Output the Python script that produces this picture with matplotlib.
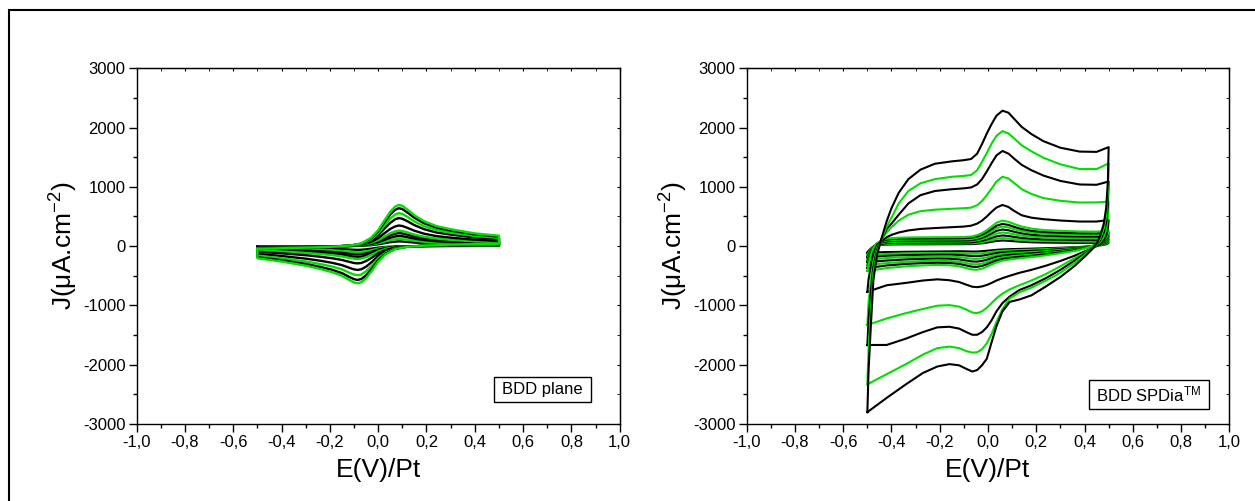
import matplotlib
matplotlib.use("Agg")
import matplotlib.pyplot as plt
from matplotlib.patches import Rectangle
from matplotlib.ticker import MultipleLocator, FuncFormatter

plt.rcParams['font.family'] = ['Liberation Sans', 'DejaVu Sans']
plt.rcParams['mathtext.fontset'] = 'custom'
plt.rcParams['mathtext.rm'] = 'Liberation Sans'
plt.rcParams['mathtext.it'] = 'Liberation Sans'

GREEN = '#00e000'
BLACK = '#000000'

# ---- left panel: BDD plane ----
E_fwd_L = [-0.5, -0.4, -0.3, -0.2, -0.12, -0.07, -0.03, 0.0, 0.025, 0.05, 0.07, 0.085,
           0.1, 0.12, 0.15, 0.19, 0.24, 0.3, 0.4, 0.5]
E_rev_L = [0.5, 0.4, 0.3, 0.2, 0.12, 0.07, 0.03, 0.0, -0.025, -0.05, -0.07, -0.085,
           -0.1, -0.12, -0.15, -0.19, -0.24, -0.3, -0.4, -0.5]

L1_fwd = [-45, -35, -25, -12, 8, 45, 140, 270, 430, 580, 665, 695, 680, 620, 520, 420, 340, 285, 215, 175]
L1_rev = [40, 35, 25, 10, -12, -50, -140, -260, -410, -540, -610, -626, -612, -570, -500, -440, -385, -330, -260, -205]
L2_fwd = [-42, -32, -23, -11, 7, 41, 129, 248, 396, 534, 612, 640, 626, 570, 478, 386, 313, 262, 198, 161]
L2_rev = [37, 32, 23, 9, -11, -46, -127, -237, -373, -491, -555, -570, -557, -519, -455, -400, -350, -300, -237, -187]
L3_fwd = [-36, -28, -20, -10, 6, 36, 112, 216, 344, 464, 532, 556, 544, 496, 416, 336, 272, 228, 172, 140]
L3_rev = [32, 28, 20, 8, -9, -39, -110, -204, -322, -424, -479, -491, -480, -447, -392, -345, -302, -259, -204, -161]
L4_fwd = [-31, -24, -17, -8, 5, 31, 95, 184, 292, 394, 452, 473, 462, 422, 354, 286, 231, 194, 146, 119]
L4_rev = [27, 22, 16, 6, -8, -32, -90, -166, -262, -346, -390, -401, -392, -365, -320, -282, -246, -211, -166, -131]
L5_fwd = [-23, -18, -13, -6, 4, 23, 70, 135, 215, 290, 332, 348, 340, 310, 260, 210, 170, 143, 108, 88]
L5_rev = [20, 16, 12, 5, -6, -23, -65, -121, -191, -251, -284, -291, -285, -265, -233, -205, -179, -153, -121, -95]
L6_fwd = [-17, -13, -9, -5, 3, 17, 53, 101, 161, 218, 249, 261, 255, 233, 195, 158, 128, 107, 81, 66]
L6_rev = [15, 12, 9, 3, -4, -17, -48, -90, -141, -186, -210, -216, -211, -197, -173, -152, -133, -114, -90, -71]
L7_fwd = [-14, -11, -8, -4, 3, 14, 44, 85, 135, 183, 209, 219, 214, 195, 164, 132, 107, 90, 68, 55]
L7_rev = [12, 10, 7, 3, -3, -15, -41, -75, -119, -157, -177, -182, -177, -165, -145, -128, -112, -96, -75, -59]
L8_fwd = [-11, -9, -6, -3, 2, 11, 34, 66, 105, 142, 163, 170, 167, 152, 127, 103, 83, 70, 53, 43]
L8_rev = [10, 8, 6, 2, -3, -11, -32, -59, -92, -122, -137, -141, -138, -128, -113, -99, -87, -74, -59, -46]
L9_fwd = [-8, -6, -4, -2, 1, 8, 25, 47, 75, 102, 116, 122, 119, 109, 91, 74, 60, 50, 38, 31]
L9_rev = [7, 6, 4, 2, -2, -8, -22, -42, -66, -86, -98, -100, -98, -91, -80, -70, -62, -53, -42, -33]
L10_fwd = [-5, -4, -3, -1, 1, 5, 16, 31, 49, 67, 76, 80, 78, 71, 60, 48, 39, 33, 25, 20]
L10_rev = [4, 3, 2, 1, -1, -5, -14, -26, -41, -54, -61, -63, -61, -57, -50, -44, -38, -33, -26, -21]

left_curves = [
    (L10_fwd, L10_rev, BLACK), (L9_fwd, L9_rev, GREEN), (L8_fwd, L8_rev, BLACK),
    (L7_fwd, L7_rev, BLACK), (L6_fwd, L6_rev, GREEN), (L5_fwd, L5_rev, BLACK),
    (L4_fwd, L4_rev, BLACK), (L3_fwd, L3_rev, GREEN), (L2_fwd, L2_rev, BLACK),
    (L1_fwd, L1_rev, GREEN),
]

# ---- right panel: BDD SPDia ----
E_fwd_R = [-0.5, -0.495, -0.485, -0.475, -0.46, -0.44, -0.42, -0.4, -0.37, -0.33, -0.28,
           -0.22, -0.15, -0.1, -0.07, -0.045, -0.025, -0.005, 0.015, 0.035, 0.06, 0.085,
           0.11, 0.14, 0.18, 0.23, 0.3, 0.38, 0.45, 0.5]
E_rev_R = [0.5, 0.497, 0.49, 0.48, 0.465, 0.45, 0.43, 0.4, 0.36, 0.3, 0.24, 0.18, 0.13,
           0.09, 0.06, 0.035, 0.015, -0.005, -0.025, -0.045, -0.065, -0.09, -0.12, -0.16,
           -0.21, -0.27, -0.34, -0.42, -0.5]

B1_fwd = [-2800, -2100, -1300, -570, -150, 150, 420, 640, 900, 1130, 1290, 1390, 1430, 1450, 1470,
          1560, 1720, 1900, 2060, 2200, 2285, 2250, 2140, 2010, 1890, 1770, 1660, 1595, 1590, 1670]
B1_rev = [1670, 1100, 650, 380, 170, 40, -60, -180, -330, -520, -680, -830, -900, -940, -1100,
          -1350, -1620, -1900, -2010, -2090, -2115, -2070, -2010, -1990, -2030, -2140, -2330, -2560, -2800]
G1_fwd = [-2330, -1750, -1050, -450, -100, 130, 330, 480, 720, 930, 1060, 1130, 1170, 1185, 1200,
          1280, 1420, 1570, 1730, 1860, 1940, 1900, 1810, 1700, 1600, 1490, 1380, 1300, 1300, 1395]
G1_rev = [1395, 900, 520, 300, 130, 30, -50, -150, -280, -450, -580, -700, -780, -880, -1060,
          -1280, -1480, -1640, -1740, -1790, -1795, -1770, -1720, -1695, -1720, -1830, -1990, -2160, -2330]
B2_fwd = [-1670, -1250, -750, -350, -60, 130, 290, 380, 530, 720, 860, 930, 960, 975, 990,
          1040, 1130, 1260, 1400, 1530, 1605, 1560, 1470, 1370, 1280, 1190, 1100, 1040, 1035, 1090]
B2_rev = [1090, 700, 400, 230, 100, 20, -45, -130, -240, -400, -540, -660, -740, -850, -960,
          -1100, -1250, -1370, -1450, -1495, -1495, -1450, -1390, -1360, -1370, -1450, -1560, -1667, -1667]
G2_fwd = [-1330, -950, -560, -250, -30, 120, 230, 320, 430, 530, 590, 615, 630, 640, 650,
          690, 760, 860, 970, 1090, 1170, 1140, 1060, 960, 880, 810, 765, 735, 738, 751]
G2_rev = [751, 480, 280, 160, 70, 15, -40, -110, -200, -340, -470, -580, -660, -730, -800,
          -880, -960, -1040, -1100, -1130, -1120, -1070, -1020, -995, -1005, -1060, -1130, -1220, -1330]
B3_fwd = [-770, -560, -320, -120, 20, 90, 150, 190, 230, 265, 290, 305, 320, 330, 345,
          380, 430, 500, 580, 650, 695, 660, 590, 520, 480, 455, 432, 415, 415, 442]
B3_rev = [442, 300, 180, 100, 40, 0, -40, -90, -160, -250, -330, -400, -450, -500, -540,
          -580, -620, -655, -680, -692, -685, -650, -605, -575, -560, -580, -620, -660, -770]
S1_fwd = [-420, -300, -150, -30, 50, 100, 125, 135, 142, 146, 148, 150, 152, 155, 162,
          185, 220, 270, 330, 395, 430, 410, 370, 330, 295, 272, 258, 247, 245, 260]
S1_rev = [260, 200, 140, 100, 60, 30, 0, -40, -80, -120, -155, -185, -205, -225, -245,
          -275, -310, -350, -380, -398, -395, -370, -340, -322, -317, -325, -340, -370, -420]
S2_fwd = [-370, -265, -130, -25, 45, 88, 110, 119, 125, 128, 130, 131, 132, 135, 141,
          162, 193, 236, 288, 345, 375, 358, 323, 288, 258, 238, 226, 217, 215, 228]
S2_rev = [228, 175, 122, 88, 53, 26, 0, -35, -70, -105, -137, -163, -181, -198, -216,
          -242, -273, -308, -334, -350, -348, -326, -300, -284, -280, -287, -300, -326, -370]
S3_fwd = [-320, -230, -112, -20, 38, 76, 95, 102, 107, 109, 110, 111, 112, 114, 119,
          138, 165, 205, 253, 304, 330, 315, 284, 253, 227, 209, 198, 190, 188, 200]
S3_rev = [200, 154, 107, 77, 46, 23, 0, -31, -62, -92, -120, -143, -159, -174, -190,
          -212, -239, -270, -293, -307, -305, -286, -263, -249, -245, -251, -263, -286, -320]
S4_fwd = [-270, -195, -95, -17, 32, 64, 80, 86, 89, 91, 92, 93, 94, 96, 100,
          117, 140, 174, 215, 258, 280, 267, 241, 215, 192, 177, 168, 161, 160, 170]
S4_rev = [170, 131, 91, 65, 39, 19, 0, -26, -52, -78, -102, -122, -135, -148, -161,
          -180, -203, -230, -249, -261, -259, -243, -224, -212, -210, -214, -224, -243, -270]
S5_fwd = [-230, -165, -80, -14, 27, 52, 65, 70, 73, 74, 75, 76, 77, 79, 83,
          96, 115, 143, 176, 211, 230, 219, 198, 176, 158, 146, 138, 132, 130, 140]
S5_rev = [140, 108, 75, 54, 32, 16, 0, -21, -43, -64, -84, -100, -111, -122, -133,
          -148, -167, -189, -205, -215, -214, -200, -184, -176, -175, -178, -185, -200, -230]
S6_fwd = [-190, -136, -66, -12, 21, 40, 50, 54, 56, 57, 58, 59, 60, 61, 65,
          75, 90, 112, 138, 165, 180, 171, 155, 138, 124, 114, 108, 103, 102, 110]
S6_rev = [110, 85, 59, 42, 25, 12, 0, -17, -34, -50, -66, -79, -87, -96, -105,
          -117, -132, -148, -161, -169, -168, -158, -148, -144, -145, -147, -152, -162, -190]
S7_fwd = [-150, -107, -52, -9, 15, 30, 37, 40, 42, 43, 43, 44, 45, 46, 49,
          56, 67, 84, 103, 124, 135, 128, 116, 103, 93, 86, 81, 77, 76, 82]
S7_rev = [82, 63, 44, 31, 19, 9, 0, -12, -25, -38, -49, -59, -65, -72, -78,
          -87, -98, -110, -120, -127, -128, -122, -116, -114, -115, -117, -121, -130, -150]
S8_fwd = [-110, -78, -38, -7, 10, 21, 26, 28, 29, 30, 30, 31, 32, 33, 35,
          40, 48, 59, 73, 87, 95, 90, 82, 73, 65, 60, 57, 54, 53, 58]
S8_rev = [58, 45, 31, 22, 13, 6, 0, -9, -18, -27, -35, -42, -47, -51, -56,
          -62, -70, -78, -85, -90, -91, -88, -86, -88, -90, -92, -95, -100, -110]

right_curves = [
    (S8_fwd, S8_rev, BLACK), (S7_fwd, S7_rev, GREEN), (S6_fwd, S6_rev, BLACK),
    (S5_fwd, S5_rev, GREEN), (S4_fwd, S4_rev, BLACK), (S3_fwd, S3_rev, GREEN),
    (S2_fwd, S2_rev, BLACK), (S1_fwd, S1_rev, GREEN), (B3_fwd, B3_rev, BLACK),
    (G2_fwd, G2_rev, GREEN), (B2_fwd, B2_rev, BLACK), (G1_fwd, G1_rev, GREEN),
    (B1_fwd, B1_rev, BLACK),
]

x_ticks = [-1.0, -0.8, -0.6, -0.4, -0.2, 0.0, 0.2, 0.4, 0.6, 0.8, 1.0]
y_ticks = [-3000, -2000, -1000, 0, 1000, 2000, 3000]

fig = plt.figure(figsize=(12.55, 5.01), dpi=100)
fig.patches.append(Rectangle((9 / 1255, -0.1), 1.2, 1.1 - 10 / 501, transform=fig.transFigure,
                             fill=False, lw=1.5, ec='black'))

ax1 = fig.add_axes([0.1089, 0.1537, 0.3849, 0.710])
ax2 = fig.add_axes([0.5950, 0.1537, 0.3845, 0.710])


def style(ax, label, box):
    ax.set_xlim(-1.0, 1.0)
    ax.set_ylim(-3000, 3000)
    ax.set_xticks(x_ticks)
    ax.set_yticks(y_ticks)
    ax.xaxis.set_minor_locator(MultipleLocator(0.1))
    ax.yaxis.set_minor_locator(MultipleLocator(500))
    ax.xaxis.set_major_formatter(FuncFormatter(lambda v, p: f"{v:.1f}".replace('.', ',').replace('-0,0', '0,0')))
    ax.yaxis.set_major_formatter(FuncFormatter(lambda v, p: f"{int(round(v))}"))
    ax.tick_params(which='major', direction='out', length=6, width=1, labelsize=12, pad=2)
    ax.tick_params(which='minor', direction='out', length=3, width=1)
    ax.tick_params(which='both', top=False, right=False)
    sec_x = ax.secondary_xaxis('top')
    sec_x.set_xticks(x_ticks)
    sec_x.xaxis.set_minor_locator(MultipleLocator(0.1))
    sec_x.tick_params(which='both', direction='in', length=2, labeltop=False)
    sec_y = ax.secondary_yaxis('right')
    sec_y.set_yticks(y_ticks)
    sec_y.yaxis.set_minor_locator(MultipleLocator(500))
    sec_y.tick_params(which='both', direction='in', length=2, labelright=False)
    for s in ax.spines.values():
        s.set_linewidth(1.0)
    ax.set_xlabel('E(V)/Pt', fontsize=19, labelpad=6)
    ax.set_ylabel(r'J($\mathrm{\mu}$A.cm$^{-2}$)', fontsize=19, labelpad=2)
    (x0, x1, y0, y1) = box
    ax.add_patch(Rectangle((x0, y0), x1 - x0, y1 - y0, transform=ax.transAxes,
                           fill=False, lw=1.0, ec='black', zorder=5))
    ax.text((x0 + x1) / 2, (y0 + y1) / 2, label, transform=ax.transAxes,
            ha='center', va='center', fontsize=12, zorder=6)


for fwd, rev, c in left_curves:
    ax1.plot(E_fwd_L + E_rev_L + [E_fwd_L[0]], fwd + rev + [fwd[0]], color=c, lw=1.7,
             solid_joinstyle='round')
for fwd, rev, c in right_curves:
    ax2.plot(E_fwd_R + E_rev_R + [E_fwd_R[0]], fwd + rev + [fwd[0]], color=c, lw=1.5,
             solid_joinstyle='round')

style(ax1, 'BDD plane', (0.740, 0.941, 0.063, 0.133))
style(ax2, r'BDD SPDia$^{\mathrm{TM}}$', (0.709, 0.958, 0.041, 0.124))

fig.savefig('out.png', dpi=100)
